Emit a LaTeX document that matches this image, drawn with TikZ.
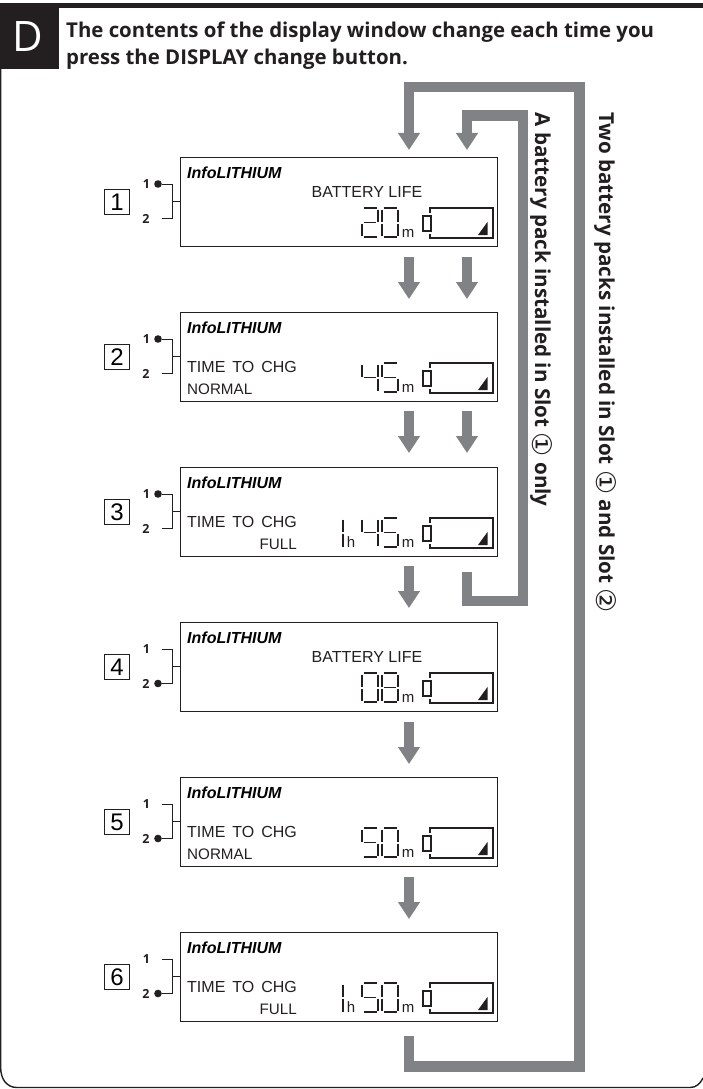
\documentclass[tikz,border=0pt]{standalone}
\usepackage{fontspec}
\usetikzlibrary{arrows.meta,calc}
\setmainfont{Liberation Sans}
\newfontfamily\headf{Open Sans}
\newfontfamily\djv{DejaVu Sans}
\definecolor{flow}{HTML}{808285}
\definecolor{ink}{HTML}{231F20}
\newcommand\fsz[1]{\fontsize{#1}{#1}\selectfont}
\newcommand\circled[1]{{\djv\mdseries\fsz{27}\raisebox{-2.5pt}{#1}}}
\tikzset{
  flowline/.style={draw=flow,line width=10.5pt,line cap=butt,line join=miter},
  flowarrow/.style={flowline,-{Triangle[width=21pt,length=17pt]}},
  lcdbox/.style={draw=ink,line width=1.1pt,fill=white,anchor=north west,minimum width=317pt,minimum height=89pt,inner sep=0pt},
  numbox/.style={draw=ink,line width=1.1pt,minimum width=24.5pt,minimum height=24.5pt,inner sep=0pt,font=\fsz{24}},
  brand/.style={anchor=west,inner sep=0pt,font=\fsz{16}\bfseries\itshape},
  lcdtext/.style={inner sep=0pt,font=\fsz{16},text=ink},
  lcdsmall/.style={inner sep=0pt,font=\fsz{15.2},text=ink},
  slot/.style={inner sep=0pt,font=\headf\bfseries\fsz{12.5},text=ink},
  unit/.style={inner sep=0pt,anchor=base,font=\fsz{15},text=ink},
  seg/.style={draw=ink,line width=1.4pt},
  wire/.style={draw=ink,line width=1pt},
  sidelabel/.style={rotate=-90,anchor=base west,inner sep=0pt,font=\headf\bfseries\fsz{20.6},text=ink},
  headline/.style={anchor=west,inner sep=0pt,font=\headf\bfseries\fsz{20.4},text=ink},
}
\newcommand\segA{(1.5,0)--(14.5,0)}
\newcommand\segB{(16,1.5)--(16,13.5)}
\newcommand\segC{(16,15.5)--(16,27.5)}
\newcommand\segD{(1.5,29)--(14.5,29)}
\newcommand\segE{(0,15.5)--(0,27.5)}
\newcommand\segF{(0,1.5)--(0,13.5)}
\newcommand\segG{(2,14.5)--(14,14.5)}
\newcommand\tm{TIME\hspace{2.5pt} TO\hspace{2.5pt} CHG}
% seven-segment digit: x, top y, list of segments
\newcommand\sevenseg[3]{\begin{scope}[shift={(#1,#2)}]
  \foreach \s in {#3}{\draw[seg] \csname seg\s\endcsname;}
\end{scope}}
% #1 index, #2 top y, #3 active slot, #4 extra contents, #5,#6 digits
\newcommand\lcd[6]{\begin{scope}[shift={(0,#2)}]
  \node[lcdbox] (p#1) at (180,0) {};
  \node[brand] (b#1) at (187,15.5) {InfoLITHIUM};
  \node[numbox] (n#1) at (117,45) {#1};
  \node[slot] (sa#1) at (146.5,27) {1};
  \node[slot] (sb#1) at (146,62) {2};
  \coordinate (wa#1) at (162,27);
  \coordinate (wb#1) at (162,61.5);
  \coordinate (wm#1) at (172,44);
  \ifnum#3=1 \fill[ink] (158,27) circle (3.8pt); \else \fill[ink] (158,61.5) circle (3.8pt); \fi
  \draw[wire] (wa#1) -| (wb#1 -| wm#1) -- (wb#1);
  \draw[wire] (wm#1) -- (wm#1 -| p#1.west);
  \sevenseg{362}{51}{#5}
  \sevenseg{382}{51}{#6}
  \node[unit] (m#1) at (408,80) {m};
  \node[draw=ink,line width=1.6pt,minimum width=8pt,minimum height=14.5pt,inner sep=0pt] (c#1) at (427,66.5) {};
  \draw[ink,line width=1.3pt] (430,55.5) -- (430,51) -- (493,51) -- (493,81) -- (430,81) -- (430,76.5);
  \fill[ink] (478,78) -- (487.5,78) -- (487.5,65) -- cycle;
  #4
\end{scope}}
\newcommand\hourmark{\draw[seg] (343,52.5)--(343,64.5); \draw[seg] (343,66.5)--(343,79.5); \node[unit] at (351,80) {h};}
\begin{document}
\begin{tikzpicture}[x=1pt,y=-1pt]
\useasboundingbox (0,0) rectangle (703,1089);
\fill[white] (0,0) rectangle (703,1089);
% frame
\fill[ink] (0,3.5) rectangle (703,8.5);
\draw[ink,line width=1.4pt] (0.7,60) -- (0.7,1068) .. controls (0.7,1078) and (6,1087.5) .. (17,1087.5) -- (690,1087.5) .. controls (696,1087.5) and (700,1084) .. (703,1078);
\fill[ink] (0,3.5) rectangle (58.5,69);
\node[inner sep=0pt,text=white,font=\headf\fsz{42}] (dmark) at (27.5,37) {D};
\node[headline] (h1) at (66,32) {The contents of the display window change each time you};
\node[headline] (h2) at (66,59) {press the DISPLAY change button.};
% panels
\lcd{1}{157}{1}{\node[lcdtext] (t1) at (367,35) {BATTERY LIFE};}{A,B,G,E,D}{A,B,C,D,E,F}
\lcd{2}{312}{1}{\node[lcdtext,anchor=west] (t2) at (187,55) {\tm};\node[lcdsmall,anchor=west] (u2) at (187,77) {NORMAL};}{F,G,B,C}{A,F,G,C,D}
\lcd{3}{467}{1}{\node[lcdtext,anchor=west] (t3) at (187,55) {\tm};\node[lcdsmall,anchor=east] (u3) at (297,77) {FULL};\hourmark}{F,G,B,C}{A,F,G,C,D}
\lcd{4}{622}{2}{\node[lcdtext] (t4) at (367,35) {BATTERY LIFE};}{A,B,C,D,E,F}{A,B,C,D,E,F,G}
\lcd{5}{777}{2}{\node[lcdtext,anchor=west] (t5) at (187,55) {\tm};\node[lcdsmall,anchor=west] (u5) at (187,77) {NORMAL};}{A,F,G,C,D}{A,B,C,D,E,F}
\lcd{6}{932}{2}{\node[lcdtext,anchor=west] (t6) at (187,55) {\tm};\node[lcdsmall,anchor=east] (u6) at (297,77) {FULL};\hourmark}{A,F,G,C,D}{A,B,C,D,E,F}
% flow coordinates
\foreach \i/\y in {1/257,2/411,3/566,4/722,5/877}{
  \coordinate (fa\i) at (409,\y);
  \coordinate (ga\i) at (409,\y+42);
}
\foreach \i/\y in {1/257,2/411}{
  \coordinate (fb\i) at (467,\y);
  \coordinate (gb\i) at (467,\y+42);
}
\foreach \i in {1,...,5}{\draw[flowarrow] (fa\i) -- (ga\i);}
\foreach \i in {1,2}{\draw[flowarrow] (fb\i) -- (gb\i);}
% return loops
\coordinate (os) at (409,1036);
\coordinate (oe) at (409,150);
\draw[flowline] (os) -- (409,1066.5) -- (579.5,1066.5) -- (579.5,87) -- (409,87) -- (409,130);
\draw[flowarrow] (409,110) -- (oe);
\coordinate (is) at (467,572);
\coordinate (ie) at (467,150);
\draw[flowline] (is) -- (467,601) -- (523,601) -- (523,115.5) -- (467,115.5) -- (467,130);
\draw[flowarrow] (467,120) -- (ie);
% side labels
\node[sidelabel] (la) at (535,112.5) {A battery pack installed in Slot \circled{①} only};
\node[sidelabel] (lb) at (599,112) {Two battery packs installed in Slot \circled{①} and Slot \circled{②}};
\end{tikzpicture}
\end{document}
